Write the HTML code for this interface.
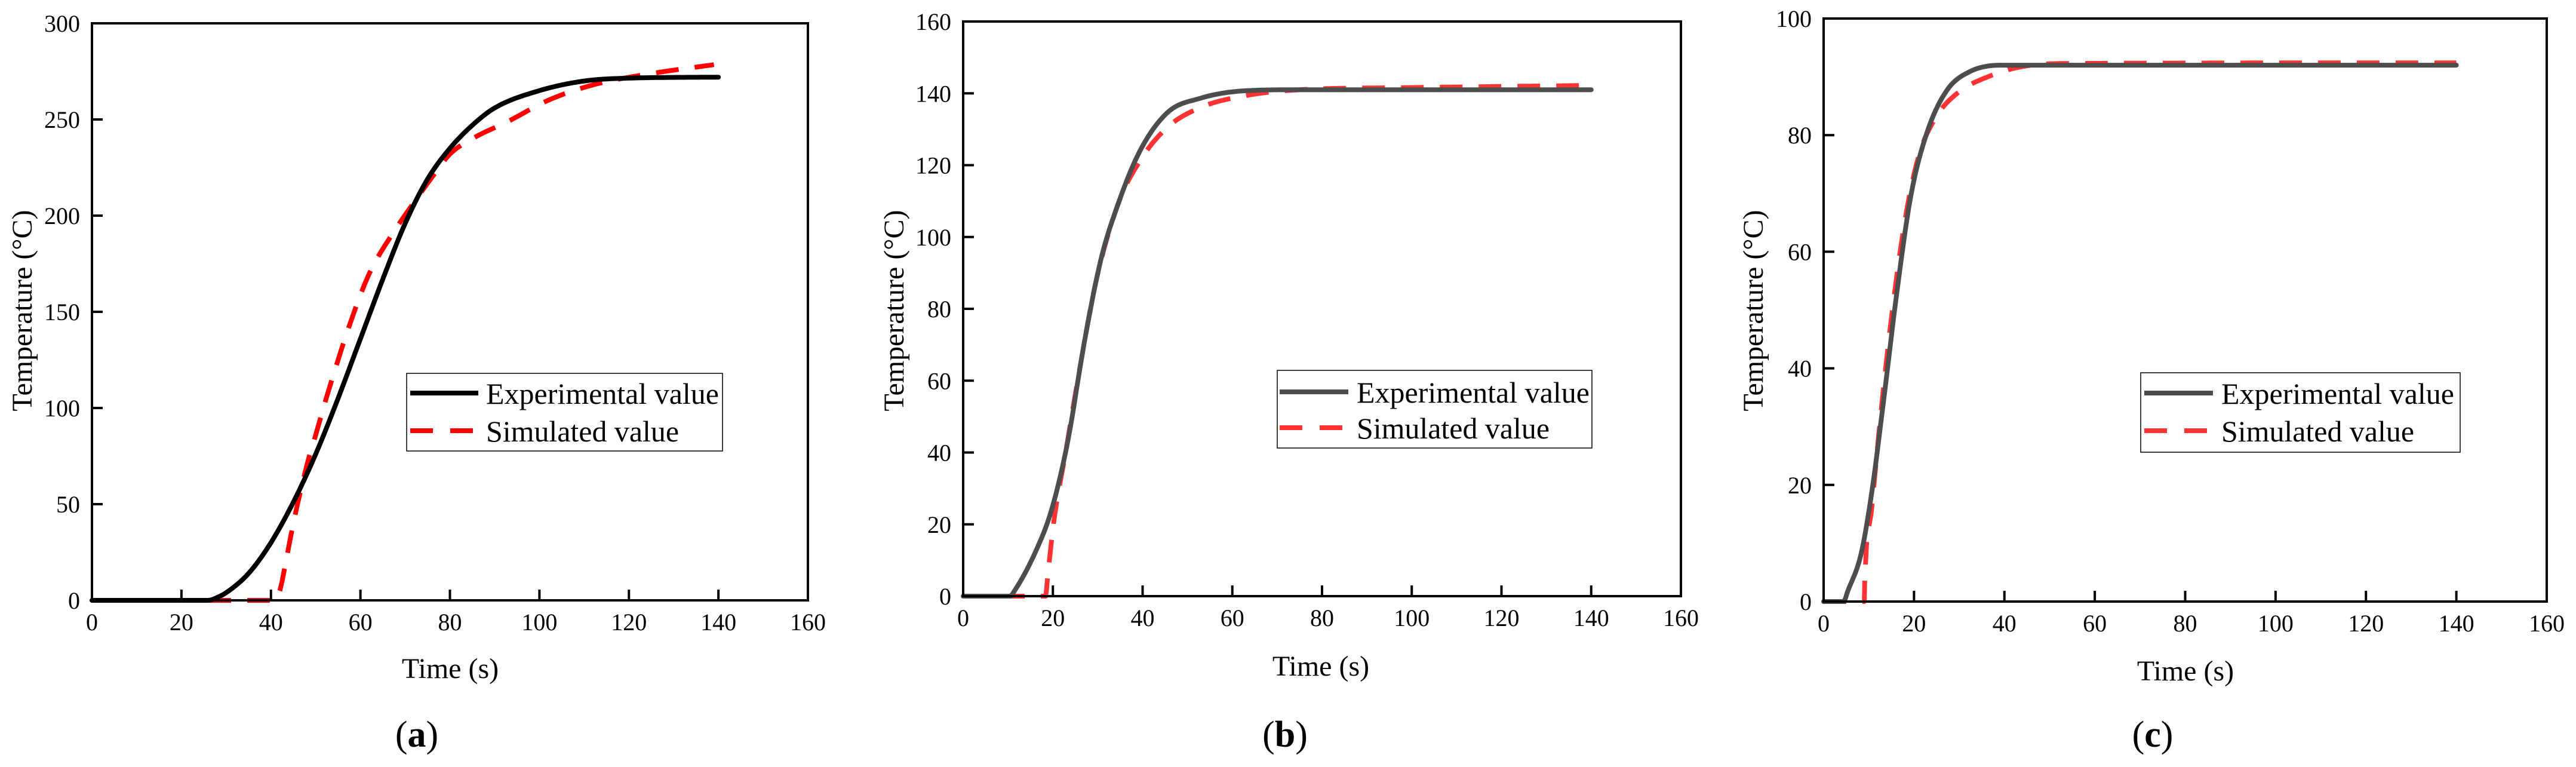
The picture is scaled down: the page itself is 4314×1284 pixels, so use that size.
<!DOCTYPE html>
<html><head><meta charset="utf-8"><style>
html,body{margin:0;padding:0;background:#fff;}
svg{display:block;}
svg text{font-family:"Liberation Serif","Times New Roman",serif;}
</style></head><body>
<svg id="fig" width="4314" height="1284" viewBox="0 0 4314 1284" xmlns="http://www.w3.org/2000/svg" font-family="Liberation Serif, serif"></svg>
<script>
const xTicks = [0,20,40,60,80,100,120,140,160];
const aYTicks = [0,50,100,150,200,250,300];
const bYTicks = [0,20,40,60,80,100,120,140,160];
const cYTicks = [0,20,40,60,80,100];
const aExpT = [0,26,28,30,35,40,45,50,55,60,65,70,75,80,85,90,100,110,120,140];
const aExpV = [0,0,1.5,4,14,30,51,76,105,136,167,196,219,235,247,256,265,270,271.5,272];
const aSimT = [0,41,42,43,45,48,50,53,58,62,67,72,76,80,85,93,102,112,124,139];
const aSimV = [0,0,5,16,40,70,86,110,146,170,190,207,220,232,240,249,260,268,273.5,278.5];
const bExpT = [0,10.5,11.3,16,19.7,23.3,27,30.7,34.4,39.3,45.5,52.8,62.7,75,140];
const bExpV = [0,0,1.2,12,24,43,70.6,93.7,108.7,123.7,134.6,138.6,140.7,141,141];
const bSimT = [0,18.4,18.8,20.3,22.7,25.8,29.5,34.4,39.3,45.5,52.8,62.7,75,99.5,140];
const bSimV = [0,0,5,21.6,39,62,87,108.7,121,130.5,136,139.3,141,141.6,142.2];
const cExpT = [0,4.5,5.2,8.3,10.7,13.2,16.2,19.3,22.9,27.2,32.1,39.4,140];
const cExpV = [0,0,1.5,8.2,19,34,53,69.6,80.5,87.6,90.8,92,92];
const cSimT = [0,9,9.1,10.5,12.6,15,18,21,24.8,29.6,37,44.3,55.2,140];
const cSimV = [0,0,4,15,31.8,48.6,65.4,76.3,83,87.2,90.2,91.8,92.3,92.4];

const NS='http://www.w3.org/2000/svg';
const svg=document.getElementById('fig');
function mk(tag,attrs,parent,text){const e=document.createElementNS(NS,tag);for(const k in attrs)e.setAttribute(k,attrs[k]);if(tag==='text')e.setAttribute('font-family','Liberation Serif, serif');if(text!==undefined)e.textContent=text;(parent||svg).appendChild(e);return e;}

// monotone cubic (Fritsch-Carlson) sampling
function monotone(T,V){
  const n=T.length,d=[],m=[];
  for(let i=0;i<n-1;i++)d.push((V[i+1]-V[i])/(T[i+1]-T[i]));
  m[0]=d[0];m[n-1]=d[n-2];
  for(let i=1;i<n-1;i++){m[i]=(d[i-1]*d[i]<=0)?0:(d[i-1]+d[i])/2;}
  for(let i=0;i<n-1;i++){
    if(d[i]===0){m[i]=0;m[i+1]=0;continue;}
    const a=m[i]/d[i],b=m[i+1]/d[i],s=a*a+b*b;
    if(s>9){const t=3/Math.sqrt(s);m[i]=t*a*d[i];m[i+1]=t*b*d[i];}
  }
  const out=[];
  for(let i=0;i<n-1;i++){
    const h=T[i+1]-T[i],steps=Math.max(2,Math.ceil(h*2));
    for(let k=0;k<steps;k++){
      const t=k/steps,t2=t*t,t3=t2*t;
      const v=(2*t3-3*t2+1)*V[i]+(t3-2*t2+t)*h*m[i]+(-2*t3+3*t2)*V[i+1]+(t3-t2)*h*m[i+1];
      out.push([T[i]+t*h,v]);
    }
  }
  out.push([T[n-1],V[n-1]]);
  return out;
}

function panel(cfg){
  const g=mk('g',{});
  
  
  const xs=v=>cfg.L+(v/160)*(cfg.R-cfg.L);
  const ys=v=>cfg.B-(v/cfg.ymax)*(cfg.B-cfg.T);
  const pts=(T,V)=>monotone(T,V).map(p=>xs(p[0]).toFixed(1)+','+ys(p[1]).toFixed(1)).join(' ');
  const sim=mk('polyline',{points:pts(cfg.simT,cfg.simV),fill:'none',stroke:cfg.simCol,'stroke-width':8,'stroke-dasharray':'38 27','stroke-linejoin':'round'},g);
  
  
  const ex=mk('polyline',{points:pts(cfg.expT,cfg.expV),fill:'none',stroke:cfg.expCol,'stroke-width':8,'stroke-linejoin':'round','stroke-linecap':'round'},g);
  
  
  const fr=mk('rect',{x:cfg.L,y:cfg.T,width:cfg.R-cfg.L,height:cfg.B-cfg.T,fill:'none',stroke:'#000','stroke-width':4},g);
  
  
  xTicks.forEach(v=>{
    const x=xs(v);
    if(v>0&&v<160){const tk=mk('line',{x1:x,x2:x,y1:cfg.B,y2:cfg.B-18,stroke:'#000','stroke-width':4},g);
      
      }
    const lb=mk('text',{x:x,y:cfg.B+50,'font-size':40,'text-anchor':'middle'},g,String(v));
    
    
  });
  cfg.yTicks.forEach(v=>{
    const y=ys(v);
    if(v>0&&v<cfg.ymax){const tk=mk('line',{x1:cfg.L,x2:cfg.L+18,y1:y,y2:y,stroke:'#000','stroke-width':4},g);
      
      }
    const lb=mk('text',{x:cfg.L-20,y:y+14,'font-size':40,'text-anchor':'end'},g,String(v));
    
    
  });
  const xt=mk('text',{x:cfg.xtX,y:cfg.xtY,'font-size':48,'text-anchor':'middle'},g,'Time (s)');
  
  
  const yt=mk('text',{x:0,y:0,'font-size':48,'text-anchor':'middle',transform:`translate(${cfg.ytX+16},520) rotate(-90)`},g,'Temperature (°C)');
  
  
  const cap=mk('text',{x:cfg.capX,y:1250,'font-size':62,'text-anchor':'middle'},g);
  
  
  mk('tspan',{},cap,'(');mk('tspan',{'font-weight':'bold'},cap,cfg.id);mk('tspan',{},cap,')');
  const lg=cfg.lg;
  const lgG=mk('g',{},g);
  
  
  mk('rect',{x:lg.x1,y:lg.y1,width:lg.x2-lg.x1,height:lg.y2-lg.y1,fill:'#fff',stroke:'#000','stroke-width':1.5},lgG);
  const e1=mk('line',{x1:lg.sx1,x2:lg.sx2,y1:lg.r1,y2:lg.r1,stroke:cfg.expCol,'stroke-width':8},lgG);
  
  
  const e2=mk('line',{x1:lg.sx1,x2:lg.sx2,y1:lg.r2,y2:lg.r2,stroke:cfg.simCol,'stroke-width':8,'stroke-dasharray':'38 29'},lgG);
  
  
  const t1=mk('text',{x:lg.tx,y:lg.r1+18,'font-size':50,textLength:390,lengthAdjust:'spacingAndGlyphs'},lgG,'Experimental value');
  
  
  const t2=mk('text',{x:lg.tx,y:lg.r2+18,'font-size':50,textLength:323,lengthAdjust:'spacingAndGlyphs'},lgG,'Simulated value');
  
  
}

panel({id:'a',L:154,R:1353,T:39,B:1005,ymax:300,yTicks:aYTicks,expT:aExpT,expV:aExpV,simT:aSimT,simV:aSimV,
  expCol:'#000000',simCol:'#ff0000',xtX:754,xtY:1135,ytX:37,capX:698,
  lg:{x1:681,x2:1210,y1:625,y2:755,sx1:687,sx2:801,tx:814,r1:658,r2:721}});
panel({id:'b',L:1613,R:2815,T:36,B:998,ymax:160,yTicks:bYTicks,expT:bExpT,expV:bExpV,simT:bSimT,simV:bSimV,
  expCol:'#4d4d4d',simCol:'#ff3333',xtX:2212,xtY:1131,ytX:1497,capX:2152,
  lg:{x1:2139,x2:2666,y1:620,y2:750,sx1:2143,sx2:2258,tx:2272,r1:656,r2:716}});
panel({id:'c',L:3054,R:4265,T:31,B:1007,ymax:100,yTicks:cYTicks,expT:cExpT,expV:cExpV,simT:cSimT,simV:cSimV,
  expCol:'#4d4d4d',simCol:'#ff3333',xtX:3660,xtY:1139,ytX:2936,capX:3605,
  lg:{x1:3585,x2:4120,y1:624,y2:757,sx1:3591,sx2:3706,tx:3720,r1:658,r2:721}});
</script>
</body></html>
